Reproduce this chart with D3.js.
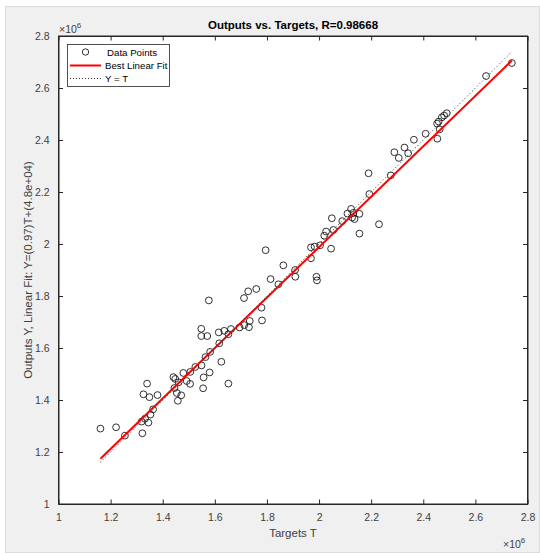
<!DOCTYPE html>
<html>
<head>
<meta charset="utf-8">
<script src="https://cdn.jsdelivr.net/npm/d3@7"></script>
<style>
  html, body { margin: 0; padding: 0; background: #ffffff; }
  svg { display: block; }
  text { font-family: "Liberation Sans", Arial, Helvetica, sans-serif; }
</style>
</head>
<body>
<svg id="chart" width="540" height="553"></svg>
<script>
// ---- data ----
const targets = [
  1.161e6, 1.221e6, 1.255e6, 1.322e6, 1.340e6, 1.326e6, 1.349e6, 1.380e6, 1.319e6, 1.332e6,
  1.345e6, 1.353e6, 1.363e6, 1.441e6, 1.448e6, 1.479e6, 1.461e6, 1.445e6, 1.454e6, 1.471e6,
  1.458e6, 1.492e6, 1.505e6, 1.506e6, 1.525e6, 1.549e6, 1.564e6, 1.582e6, 1.580e6, 1.557e6,
  1.555e6, 1.625e6, 1.652e6, 1.548e6, 1.548e6, 1.571e6, 1.617e6, 1.615e6, 1.636e6, 1.652e6,
  1.662e6, 1.695e6, 1.713e6, 1.731e6, 1.734e6, 1.577e6, 1.712e6, 1.728e6, 1.759e6, 1.779e6,
  1.781e6, 1.814e6, 1.844e6, 1.795e6, 1.863e6, 1.908e6, 1.909e6, 1.990e6, 1.992e6, 1.969e6,
  1.969e6, 1.983e6, 2.004e6, 2.046e6, 2.020e6, 2.027e6, 2.055e6, 2.049e6, 2.089e6, 2.127e6,
  2.136e6, 2.109e6, 2.123e6, 2.132e6, 2.155e6, 2.155e6, 2.230e6, 2.193e6, 2.190e6, 2.275e6,
  2.289e6, 2.306e6, 2.328e6, 2.342e6, 2.364e6, 2.409e6, 2.454e6, 2.463e6, 2.453e6, 2.459e6,
  2.471e6, 2.480e6, 2.490e6, 2.641e6, 2.740e6
];
const outputs = [
  1.290e6, 1.295e6, 1.263e6, 1.272e6, 1.463e6, 1.422e6, 1.411e6, 1.419e6, 1.317e6, 1.328e6,
  1.313e6, 1.344e6, 1.364e6, 1.488e6, 1.481e6, 1.504e6, 1.468e6, 1.446e6, 1.427e6, 1.418e6,
  1.397e6, 1.473e6, 1.462e6, 1.508e6, 1.527e6, 1.533e6, 1.565e6, 1.585e6, 1.506e6, 1.487e6,
  1.445e6, 1.547e6, 1.463e6, 1.674e6, 1.646e6, 1.646e6, 1.618e6, 1.660e6, 1.666e6, 1.653e6,
  1.673e6, 1.679e6, 1.688e6, 1.680e6, 1.704e6, 1.783e6, 1.792e6, 1.818e6, 1.827e6, 1.755e6,
  1.706e6, 1.865e6, 1.845e6, 1.976e6, 1.918e6, 1.900e6, 1.874e6, 1.874e6, 1.860e6, 1.945e6,
  1.987e6, 1.990e6, 1.995e6, 1.982e6, 2.032e6, 2.048e6, 2.054e6, 2.099e6, 2.088e6, 2.102e6,
  2.096e6, 2.117e6, 2.135e6, 2.120e6, 2.116e6, 2.040e6, 2.076e6, 2.192e6, 2.272e6, 2.264e6,
  2.353e6, 2.331e6, 2.371e6, 2.349e6, 2.401e6, 2.424e6, 2.405e6, 2.441e6, 2.463e6, 2.471e6,
  2.487e6, 2.494e6, 2.503e6, 2.646e6, 2.696e6
];
const fitSlope = 0.97;
const fitIntercept = 4.8e4;
const rValue = "0.98668";
const tickValues = [1.0e6, 1.2e6, 1.4e6, 1.6e6, 1.8e6, 2.0e6, 2.2e6, 2.4e6, 2.6e6, 2.8e6];
const tickLabels = ["1", "1.2", "1.4", "1.6", "1.8", "2", "2.2", "2.4", "2.6", "2.8"];
const legendLabels = ["Data Points", "Best Linear Fit", "Y = T"];
const titleText = "Outputs vs. Targets, R=" + rValue;
const xLabelText = "Targets T";
const yLabelText = "Outputs Y,  Linear Fit: Y=(0.97)T+(4.8e+04)";

(function () {
// ---- layout ----
const W = 540, H = 553;
const mLeft = 58.5, mRight = 527.5, mTop = 36, mBottom = 504;
const axisColor = "#262626";
const textColor = "#404040";

const svg = d3.select("#chart");

// figure background
svg.append("rect").attr("x", 0).attr("y", 0).attr("width", W).attr("height", H).attr("fill", "#ffffff");
svg.append("rect").attr("x", 5.5).attr("y", 6.5).attr("width", W - 6).attr("height", H - 7)
  .attr("fill", "#f0f0f0").attr("stroke", "#dcdcdc").attr("stroke-width", 1);

const x = d3.scaleLinear().domain([1e6, 2.8e6]).range([mLeft, mRight]);
const y = d3.scaleLinear().domain([1e6, 2.8e6]).range([mBottom, mTop]);

// axes background
svg.append("rect").attr("x", mLeft).attr("y", mTop).attr("width", mRight - mLeft).attr("height", mBottom - mTop)
  .attr("fill", "#ffffff");

const fmt = d => tickLabels[tickValues.indexOf(d)];
const tickLen = 4.5;

function styleAxis(g) {
  g.select(".domain").attr("stroke", axisColor).attr("stroke-width", 1);
  g.selectAll(".tick line").attr("stroke", axisColor).attr("stroke-width", 1);
  g.selectAll(".tick text").attr("fill", textColor).attr("font-size", "10.5px")
    .attr("font-family", '"Liberation Sans", Arial, sans-serif');
}

const gx = svg.append("g").attr("transform", `translate(0,${mBottom})`)
  .call(d3.axisBottom(x).tickValues(tickValues).tickFormat(fmt).tickSizeInner(-tickLen).tickSizeOuter(0).tickPadding(10));
styleAxis(gx);
const gxt = svg.append("g").attr("transform", `translate(0,${mTop})`)
  .call(d3.axisTop(x).tickValues(tickValues).tickFormat("").tickSizeInner(-tickLen).tickSizeOuter(0));
styleAxis(gxt);
const gy = svg.append("g").attr("transform", `translate(${mLeft},0)`)
  .call(d3.axisLeft(y).tickValues(tickValues).tickFormat(fmt).tickSizeInner(-tickLen).tickSizeOuter(0).tickPadding(9));
styleAxis(gy);
const gyr = svg.append("g").attr("transform", `translate(${mRight},0)`)
  .call(d3.axisRight(y).tickValues(tickValues).tickFormat("").tickSizeInner(-tickLen).tickSizeOuter(0));
styleAxis(gyr);

svg.append("clipPath").attr("id", "clip").append("rect")
  .attr("x", mLeft).attr("y", mTop).attr("width", mRight - mLeft).attr("height", mBottom - mTop);
const plot = svg.append("g").attr("clip-path", "url(#clip)");

const pts = targets.map((t, i) => ({ t: t, o: outputs[i] }));

plot.selectAll("circle.pt").data(pts).enter().append("circle")
  .attr("class", "pt")
  .attr("cx", d => x(d.t)).attr("cy", d => y(d.o)).attr("r", 3.4)
  .attr("fill", "none").attr("stroke", "#1a1a1a").attr("stroke-width", 0.9);

const tMin = d3.min(targets), tMax = d3.max(targets);
const fitPts = [tMin, tMax].map(t => [t, fitSlope * t + fitIntercept]);
const idPts = [tMin, tMax].map(t => [t, t]);
const line = d3.line().x(d => x(d[0])).y(d => y(d[1]));

plot.append("path").attr("d", line(fitPts)).attr("fill", "none")
  .attr("stroke", "#ff0000").attr("stroke-width", 2);
plot.append("path").attr("d", line(idPts)).attr("fill", "none")
  .attr("stroke", "#333333").attr("stroke-width", 1).attr("stroke-dasharray", "1,2.5");

svg.append("rect").attr("x", mLeft).attr("y", mTop).attr("width", mRight - mLeft).attr("height", mBottom - mTop)
  .attr("fill", "none").attr("stroke", axisColor).attr("stroke-width", 1);

svg.append("text").attr("x", (mLeft + mRight) / 2).attr("y", 29).attr("text-anchor", "middle")
  .attr("font-size", "11.5px").attr("font-weight", "bold").attr("fill", "#000").text(titleText);

svg.append("text").attr("x", (mLeft + mRight) / 2).attr("y", 537).attr("text-anchor", "middle")
  .attr("font-size", "11.5px").attr("fill", textColor).text(xLabelText);

svg.append("text").attr("transform", `translate(32,${(mTop + mBottom) / 2}) rotate(-90)`)
  .attr("text-anchor", "middle").attr("font-size", "11.5px").attr("fill", textColor).text(yLabelText);

function expLabel(xPos, yPos) {
  const t = svg.append("text").attr("x", xPos).attr("y", yPos).attr("font-size", "10.5px").attr("fill", textColor);
  t.append("tspan").text("\u00d710");
  t.append("tspan").attr("dy", -5).attr("font-size", "8px").text("6");
}
expLabel(59, 33);
expLabel(503, 548);

const lg = svg.append("g");
lg.append("rect").attr("x", 67.5).attr("y", 44.5).attr("width", 102).attr("height", 42)
  .attr("fill", "#ffffff").attr("stroke", axisColor).attr("stroke-width", 0.8);
const rows = [52, 65.5, 78.5];
lg.append("circle").attr("cx", 85.5).attr("cy", rows[0]).attr("r", 3.2)
  .attr("fill", "none").attr("stroke", "#1a1a1a").attr("stroke-width", 0.9);
lg.append("line").attr("x1", 70).attr("x2", 101).attr("y1", rows[1]).attr("y2", rows[1])
  .attr("stroke", "#ff0000").attr("stroke-width", 2);
lg.append("line").attr("x1", 70).attr("x2", 101).attr("y1", rows[2]).attr("y2", rows[2])
  .attr("stroke", "#333333").attr("stroke-width", 1).attr("stroke-dasharray", "1,2");
legendLabels.forEach((s, i) => {
  lg.append("text").attr("x", i === 0 ? 107 : 105).attr("y", rows[i] + 3.5)
    .attr("font-size", "9.7px").attr("fill", "#000").text(s);
});
})();
</script>
</body>
</html>
